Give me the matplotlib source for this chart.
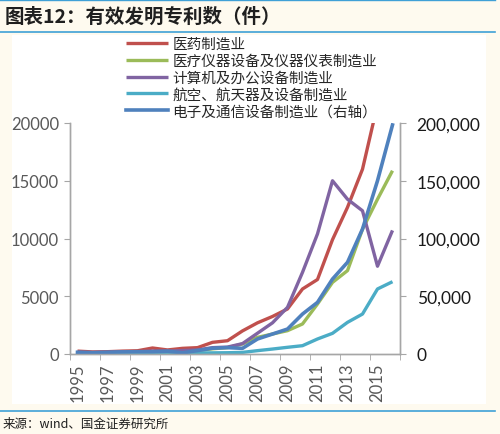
import matplotlib
matplotlib.use("Agg")
import matplotlib.pyplot as plt
from matplotlib.patches import Rectangle
from matplotlib.lines import Line2D
import numpy as np

plt.rcParams["font.family"] = ["Noto Sans CJK SC", "DejaVu Sans"]

years = list(range(1995, 2017))
year_labels = [str(y) for y in years]

# 医药制造业 (left axis); 2015 runs off the top of the chart, 2016 not shown
pharma = [250, 180, 200, 250, 280, 520, 350, 490, 550, 1010, 1150, 2000,
          2700, 3250, 3900, 5630, 6450, 9900, 12700, 16000, 21600, np.nan]
# 医疗仪器设备及仪器仪表制造业 (left axis)
medical = [100, 80, 100, 150, 150, 200, 200, 250, 300, 450, 550, 870,
           1440, 1730, 2020, 2600, 4330, 6200, 7220, 10800, 13400, 15870]
# 计算机及办公设备制造业 (left axis)
computer = [150, 120, 150, 200, 200, 250, 250, 300, 350, 550, 600, 900,
            1800, 2700, 4040, 7070, 10400, 15000, 13400, 12400, 7600, 10700]
# 航空、航天器及设备制造业 (left axis)
aero = [50, 50, 50, 60, 60, 70, 80, 80, 90, 100, 110, 140,
        290, 430, 580, 720, 1300, 1790, 2740, 3460, 5630, 6260]
# 电子及通信设备制造业 (right axis)
electronics = [1500, 1200, 1500, 1800, 2000, 2000, 2500, 1000, 3000, 5000, 5500, 4900,
               13000, 17300, 21600, 34600, 44700, 64900, 79400, 108200, 150000, 198300]

series_labels = ["医药制造业", "医疗仪器设备及仪器仪表制造业", "计算机及办公设备制造业",
                 "航空、航天器及设备制造业", "电子及通信设备制造业（右轴）"]
series_colors = ["#C0504D", "#9BBB59", "#8064A2", "#4BACC6", "#4F81BD"]

left_ticks = [0, 5000, 10000, 15000, 20000]
right_ticks = [0, 50000, 100000, 150000, 200000]

fig = plt.figure(figsize=(5, 4.35), dpi=100, facecolor="#FEFAEF")
W, H = 500, 435

# white panel and blue rules
fig.patches.append(Rectangle((12 / W, 1 - 405 / H), 474 / W, 369 / H,
                             transform=fig.transFigure, facecolor="white",
                             edgecolor="none", zorder=-10))
for yy, lw in [(1, 1.0), (33, 1.2), (412, 1.2)]:
    fig.add_artist(Line2D([0, 495 / W], [1 - yy / H, 1 - yy / H],
                          transform=fig.transFigure, color="#3FA0D6", lw=lw))

ax = fig.add_axes([70 / W, 1 - 355 / H, 330 / W, 231 / H])
ax.set_facecolor("none")
ax2 = ax.twinx()

x = np.arange(len(years))
left_series = [pharma, medical, computer, aero]
handles = []
for vals, col, lab in zip(left_series, series_colors[:4], series_labels[:4]):
    h, = ax.plot(x, vals, color=col, lw=2.4, label=lab, solid_capstyle="butt")
    handles.append(h)
h, = ax2.plot(x, electronics, color=series_colors[4], lw=2.6,
              label=series_labels[4])
handles.append(h)

ax.set_xlim(-0.5, len(years) - 0.5)
ax.set_ylim(0, 20000)
ax2.set_ylim(0, 200000)

ax.set_xticks(x[::2])
ax.set_xticklabels(year_labels[::2], rotation=90, family=["Lato", "DejaVu Sans"],
                   fontsize=12, color="#595959")
ax.set_xticks(np.arange(-0.5, len(years), 2), minor=True)
ax.tick_params(axis="x", which="major", length=0, pad=6)
ax.tick_params(axis="x", which="minor", length=4, direction="out", color="#A6A6A6")

ax.set_yticks(left_ticks)
ax.set_yticklabels([str(v) for v in left_ticks], family=["Lato", "DejaVu Sans"],
                   fontsize=12, color="#595959")
ax.tick_params(axis="y", length=4, color="#A6A6A6", pad=4)

ax2.set_yticks(right_ticks)
ax2.set_yticklabels([f"{v:,}" for v in right_ticks], family=["Lato", "DejaVu Sans"],
                    fontsize=12.5, color="#1A1A1A")
ax2.tick_params(axis="y", length=4, color="#A6A6A6", pad=8)

for a in (ax, ax2):
    a.spines["top"].set_visible(False)
    for s in ("left", "right", "bottom"):
        a.spines[s].set_color("#A6A6A6")
        a.spines[s].set_linewidth(1.0)

fig.legend(handles=handles, loc="upper left", bbox_to_anchor=(120 / W, 1 - 32 / H),
           frameon=False, fontsize=10.5, handlelength=2.9, handletextpad=0.3,
           labelspacing=0.2, borderaxespad=0, labelcolor="#262626")

fig.text(5 / W, 1 - 17 / H, "图表12：有效发明专利数（件）", fontsize=14,
         fontweight="bold", style="italic", color="#1F1F1F", va="center", ha="left")
fig.text(3 / W, 1 - 424 / H, "来源：wind、国金证券研究所", fontsize=9,
         color="#1F1F1F", va="center", ha="left")

fig.savefig("out.png", dpi=100, facecolor=fig.get_facecolor())
